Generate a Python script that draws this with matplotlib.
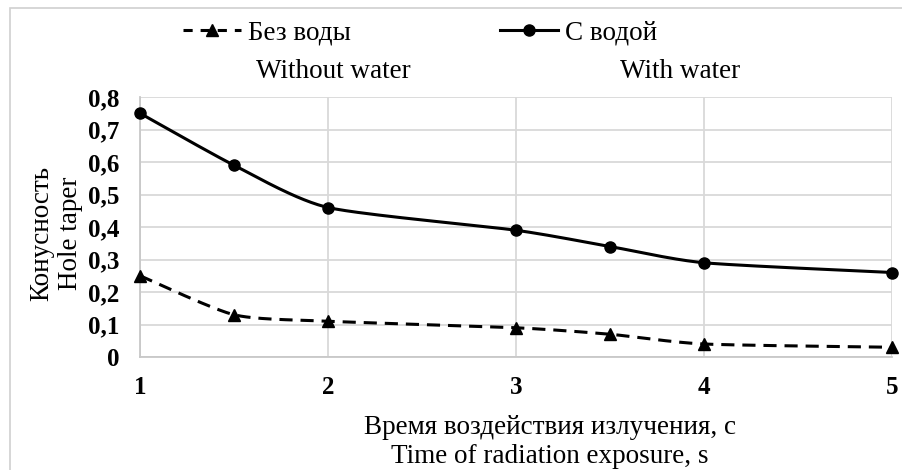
import numpy as np
import matplotlib
matplotlib.use("Agg")
import matplotlib.pyplot as plt
from matplotlib.lines import Line2D
from matplotlib.patches import Rectangle

plt.rcParams['font.family'] = ['Liberation Serif', 'DejaVu Serif']

# данные
time_s = [1, 1.5, 2, 3, 3.5, 4, 5]
without_water = [0.25, 0.13, 0.11, 0.09, 0.07, 0.04, 0.03]
with_water = [0.75, 0.59, 0.46, 0.39, 0.34, 0.29, 0.26]
x_ticks = [1, 2, 3, 4, 5]
y_ticks = [0, 0.1, 0.2, 0.3, 0.4, 0.5, 0.6, 0.7, 0.8]
y_labels = ['0', '0,1', '0,2', '0,3', '0,4', '0,5', '0,6', '0,7', '0,8']


def smooth(x, y, n=30):
    # сглаживание как в Excel (Catmull-Rom)
    x = np.asarray(x, float)
    y = np.asarray(y, float)
    px = np.concatenate([[x[0]], x, [x[-1]]])
    py = np.concatenate([[y[0]], y, [y[-1]]])
    xs, ys = [], []
    t = np.linspace(0, 1, n)
    h00 = 2*t**3 - 3*t**2 + 1
    h10 = t**3 - 2*t**2 + t
    h01 = -2*t**3 + 3*t**2
    h11 = t**3 - t**2
    for i in range(1, len(px) - 2):
        for arr, p in ((xs, px), (ys, py)):
            m1 = (p[i+1] - p[i-1]) / 3
            m2 = (p[i+2] - p[i]) / 3
            arr.extend(h00*p[i] + h10*m1 + h01*p[i+1] + h11*m2)
    return np.array(xs), np.array(ys)


fig = plt.figure(figsize=(9.03, 4.70), dpi=100)
ax = fig.add_axes([140/903, 1 - 357/470, 752/903, 260/470])

fig.patches.append(Rectangle((10/903, -0.1), 1.2, 1 - 8/470 + 0.1, transform=fig.transFigure,
                             fill=False, edgecolor='#d0d0d0', lw=1.2))

dash = (0, (4.3, 2.6))
xs, ys = smooth(time_s, without_water)
ax.plot(xs, ys, color='black', lw=2.2, ls=dash, clip_on=False)
ax.plot(time_s, without_water, ls='none', marker='^', ms=8.5, color='black', clip_on=False, zorder=3)
xs, ys = smooth(time_s, with_water)
ax.plot(xs, ys, color='black', lw=2.2, clip_on=False)
ax.plot(time_s, with_water, ls='none', marker='o', ms=8, color='black', clip_on=False, zorder=3)

ax.set_xlim(1, 5)
ax.set_ylim(0, 0.8)
ax.set_xticks(x_ticks)
ax.set_yticks(y_ticks)
ax.set_yticklabels(y_labels)
ax.grid(True, color='#d9d9d9', lw=1.3)
ax.set_axisbelow(True)
for s in ['top', 'right']:
    ax.spines[s].set_visible(False)
for s in ['left', 'bottom']:
    ax.spines[s].set_color('#c8c8c8')
    ax.spines[s].set_linewidth(1.3)
ax.tick_params(length=0, labelsize=18)
ax.tick_params(axis='x', pad=14)
ax.tick_params(axis='y', pad=15)
for lab in ax.get_xticklabels() + ax.get_yticklabels():
    lab.set_fontweight('bold')

fig.text(56/903, 1 - 233/470, 'Конусность\nHole taper', rotation=90, ha='center', va='center',
         fontsize=19.5, linespacing=1.2)
fig.text(550/903, 1 - 442/470, 'Время воздействия излучения, с\nTime of radiation exposure, s',
         ha='center', va='center', fontsize=19.5, linespacing=1.25)
fig.text(333/903, 1 - 72/470, 'Without water', ha='center', va='center', fontsize=19.5)
fig.text(680/903, 1 - 72/470, 'With water', ha='center', va='center', fontsize=19.5)

handles = [Line2D([], [], color='black', lw=2.2, ls=(0, (3, 2.6)), marker='^', ms=8),
           Line2D([], [], color='black', lw=2.2, marker='o', ms=8)]
fig.legend(handles, ['Без воды', 'С водой'], loc='center', bbox_to_anchor=(420/903, 1 - 33/470),
           ncol=2, frameon=False, fontsize=19.5, handlelength=2.15, handletextpad=0.26,
           columnspacing=5.5, borderpad=0, borderaxespad=0)

fig.savefig('out.png', dpi=100)
